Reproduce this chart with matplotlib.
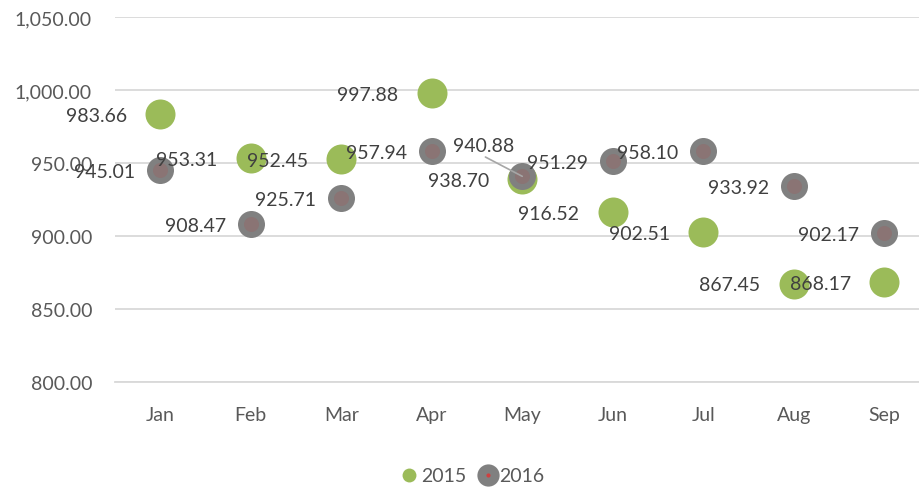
import matplotlib
matplotlib.use("Agg")
import matplotlib.pyplot as plt
from matplotlib.lines import Line2D

months = ["Jan", "Feb", "Mar", "Apr", "May", "Jun", "Jul", "Aug", "Sep"]
v2015 = [983.66, 953.31, 952.45, 997.88, 938.70, 916.52, 902.51, 867.45, 868.17]
v2016 = [945.01, 908.47, 925.71, 957.94, 940.88, 951.29, 958.10, 933.92, 902.17]
yticks = [800, 850, 900, 950, 1000, 1050]

GREEN = "#9BBB59"
GRAY = "#808080"
INNER = "#8A7474"
LABEL = "#404040"
AXIS = "#595959"
GRID = "#D9D9D9"

plt.rcParams['font.family'] = ['Lato', 'DejaVu Sans']

fig = plt.figure(figsize=(9.2, 4.89), dpi=100)
W, H = 920, 489
ax = fig.add_axes([115 / W, (489 - 383) / H, 814.5 / W, (383 - 18) / H])

x = list(range(len(months)))
ax.scatter(x, v2015, s=(30 * 0.72) ** 2, color=GREEN, zorder=3, linewidths=0)
ax.scatter(x, v2016, s=(27 * 0.72) ** 2, color=GRAY, zorder=4, linewidths=0)
ax.scatter(x, v2016, s=(15 * 0.72) ** 2, color=INNER, zorder=5, linewidths=0)

ax.set_xlim(-0.5, len(months) - 0.5)
ax.set_ylim(800, 1050)
ax.set_yticks(yticks)
ax.set_yticklabels([f"{v:,.2f}" for v in yticks])
ax.set_xticks(x)
ax.set_xticklabels(months)
ax.yaxis.grid(True, color=GRID, linewidth=1.3)
ax.set_axisbelow(True)
for s in ["top", "right", "left"]:
    ax.spines[s].set_visible(False)
ax.spines["bottom"].set_color(GRID)
ax.spines["bottom"].set_linewidth(1.3)
ax.tick_params(axis="both", length=0, labelsize=14, colors=AXIS)
ax.tick_params(axis="y", pad=16.5)
ax.tick_params(axis="x", pad=17)

fs = 14
for i, v in enumerate(v2015):
    ax.annotate(f"{v:.2f}", (i, v), xytext=(-46, -1), textcoords="offset points",
                ha="center", va="center", fontsize=fs, color=LABEL, zorder=6)
for i, v in enumerate(v2016):
    if months[i] == "May":
        ax.annotate(f"{v:.2f}", (i, v), xytext=(-28, 22), textcoords="offset points",
                    ha="center", va="center", fontsize=fs, color=LABEL, zorder=6,
                    arrowprops=dict(arrowstyle="-", color="#A6A6A6", lw=1.2,
                                    shrinkA=0, shrinkB=0, relpos=(0.5, -0.1)))
    else:
        ax.annotate(f"{v:.2f}", (i, v), xytext=(-40, -1), textcoords="offset points",
                    ha="center", va="center", fontsize=fs, color=LABEL, zorder=6)

h1 = Line2D([], [], marker="o", linestyle="none", markersize=10, color=GREEN, markeredgewidth=0)
h2a = Line2D([], [], marker="o", linestyle="none", markersize=16, color=GRAY, markeredgewidth=0)
h2b = Line2D([], [], marker="o", linestyle="none", markersize=3, color="#D04040", markeredgewidth=0)
leg = fig.legend([h1, (h2a, h2b)], ["2015", "2016"], loc="center", bbox_to_anchor=(472 / W, 1 - 477 / H),
                 ncol=2, frameon=False, fontsize=14, handlelength=1.0, handletextpad=0.1,
                 columnspacing=0.6, labelcolor=AXIS)

fig.savefig("out.png", dpi=100)
